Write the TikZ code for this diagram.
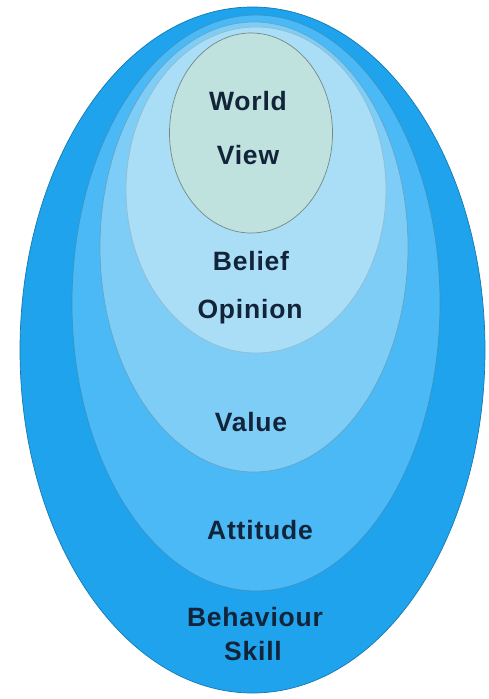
\documentclass[tikz,border=0pt]{standalone}
\usepackage{fontspec}
\setmainfont{Liberation Sans}
\newfontfamily\lblfont[LetterSpace=3]{Liberation Sans}
\usetikzlibrary{shapes.geometric}
\definecolor{c1}{RGB}{30,163,236}
\definecolor{c2}{RGB}{74,185,245}
\definecolor{c3}{RGB}{126,205,246}
\definecolor{c4}{RGB}{170,221,246}
\definecolor{c5}{RGB}{192,226,222}
\definecolor{txt}{RGB}{18,36,58}
\begin{document}
\begin{tikzpicture}[x=1pt,y=-1pt,
  layer/.style={ellipse,inner sep=0pt,line width=0.7pt},
  lbl/.style={text=txt,font=\lblfont\fontsize{26.5}{30}\selectfont\bfseries,inner sep=0pt}]
\useasboundingbox (0,0) rectangle (489,699);
\fill[white] (0,0) rectangle (489,699);
\node[layer,fill=c1,draw=c1!75!black,minimum width=465pt,minimum height=686pt] (outer) at (252.5,350) {};
\node[layer,fill=c2,draw=c2!80!black,minimum width=368pt,minimum height=576pt] (attitude) at (256,303) {};
\node[layer,fill=c3,draw=c3!80!black,minimum width=308pt,minimum height=450pt] (value) at (254,247) {};
\node[layer,fill=c4,draw=c4!85!black,minimum width=260pt,minimum height=326pt] (belief) at (256,190) {};
\node[layer,fill=c5,draw=c5!60!black,minimum width=163pt,minimum height=200pt] (world) at (251,133) {};
\node[lbl] (t1) at (248,101) {World};
\node[lbl] (t2) at (248,155) {View};
\node[lbl] (t3) at (251,261) {Belief};
\node[lbl] (t4) at (250,312) {Opinion};
\node[lbl] (t5) at (251,422) {Value};
\node[lbl] (t6) at (260,530) {Attitude};
\node[lbl] (t7) at (255,617) {Behaviour};
\node[lbl] (t8) at (253,651) {Skill};
\end{tikzpicture}
\end{document}
